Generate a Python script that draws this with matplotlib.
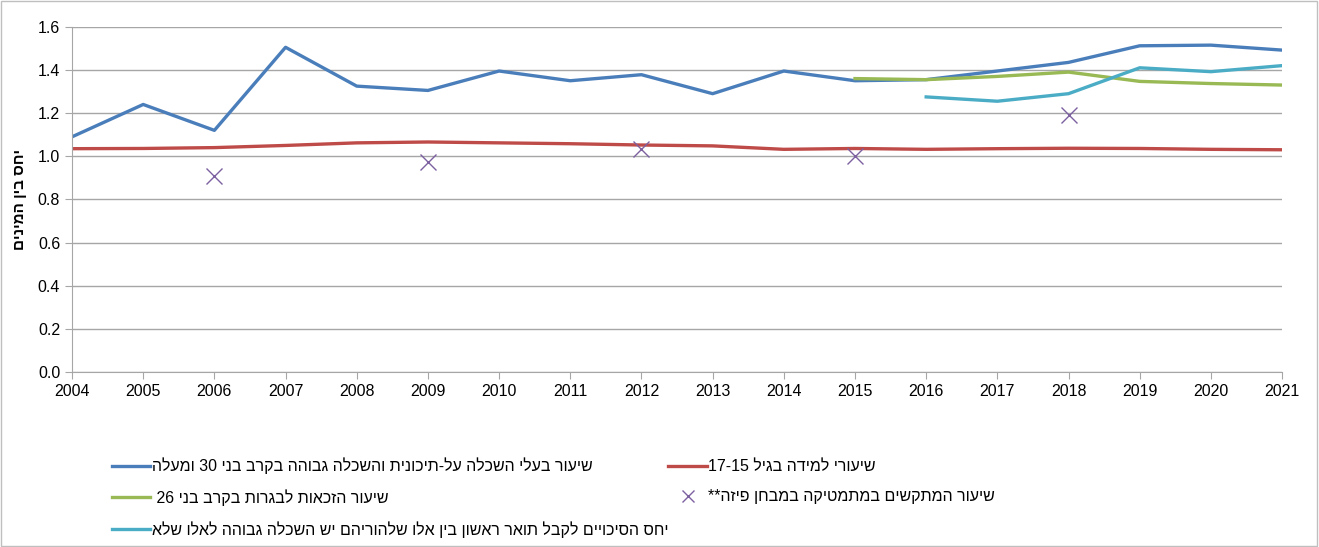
import re
import matplotlib
matplotlib.use('Agg')
import matplotlib.pyplot as plt
from matplotlib.patches import Rectangle
from matplotlib.ticker import FormatStrFormatter

plt.rcParams['font.family'] = ['Liberation Sans', 'DejaVu Sans']


def heb(s):
    # matplotlib has no bidi: flip to visual order, keep number runs LTR
    r = s[::-1]
    return re.sub(r'[0-9][0-9\-\.]*[0-9]|[0-9]', lambda m: m.group(0)[::-1], r)


years = list(range(2004, 2022))

# שיעור בעלי השכלה על-תיכונית והשכלה גבוהה בקרב בני 30 ומעלה
higher_edu = [1.09, 1.24, 1.12, 1.505, 1.325, 1.305, 1.395, 1.35, 1.378, 1.29,
              1.395, 1.35, 1.355, 1.395, 1.435, 1.512, 1.515, 1.492]
# שיעורי למידה בגיל 17-15
study_rate = [1.035, 1.036, 1.040, 1.050, 1.062, 1.066, 1.062, 1.058, 1.052, 1.048,
              1.032, 1.036, 1.032, 1.035, 1.037, 1.036, 1.032, 1.030]
# שיעור הזכאות לבגרות בקרב בני 26
bagrut_years = [2015, 2016, 2017, 2018, 2019, 2020, 2021]
bagrut = [1.36, 1.355, 1.37, 1.39, 1.347, 1.337, 1.33]
# יחס הסיכויים לקבל תואר ראשון
odds_years = [2016, 2017, 2018, 2019, 2020, 2021]
odds = [1.275, 1.255, 1.29, 1.41, 1.392, 1.42]
# פיזה
pisa_years = [2006, 2009, 2012, 2015, 2018]
pisa = [0.91, 0.975, 1.035, 1.0, 1.19]

labels = {
    'blue': heb('שיעור בעלי השכלה על-תיכונית והשכלה גבוהה בקרב בני 30 ומעלה'),
    'red': heb('שיעורי למידה בגיל 17-15'),
    'green': heb('שיעור הזכאות לבגרות בקרב בני 26 '),
    'pisa': heb('שיעור המתקשים במתמטיקה במבחן פיזה**'),
    'cyan': heb('יחס הסיכויים לקבל תואר ראשון בין אלו שלהוריהם יש השכלה גבוהה לאלו שלא'),
}

fig = plt.figure(figsize=(13.19, 5.47), dpi=100)
ax = fig.add_axes([0.0546, 0.320, 0.9174, 0.631])

lw = 2.4
l_blue, = ax.plot(years, higher_edu, color='#4a7ebb', lw=lw)
l_red, = ax.plot(years, study_rate, color='#be4b48', lw=lw)
l_green, = ax.plot(bagrut_years, bagrut, color='#98b954', lw=lw)
l_cyan, = ax.plot(odds_years, odds, color='#4bacc6', lw=lw)
l_pisa, = ax.plot(pisa_years, pisa, ls='none', marker='x', ms=12, mew=1.0, color='#7d60a0')

ax.set_xlim(2004, 2021)
ax.set_ylim(0, 1.6)
ax.set_xticks(years)
ax.set_yticks([0, 0.2, 0.4, 0.6, 0.8, 1.0, 1.2, 1.4, 1.6])
ax.yaxis.set_major_formatter(FormatStrFormatter('%.1f'))
ax.grid(axis='y', color='#a6a6a6', lw=1)
ax.set_axisbelow(True)
for s in ['top', 'right']:
    ax.spines[s].set_visible(False)
for s in ['left', 'bottom']:
    ax.spines[s].set_color('#a6a6a6')
ax.tick_params(axis='both', colors='#a6a6a6', labelcolor='black', labelsize=11.5, length=5)
ax.set_ylabel(heb('יחס בין המינים'), fontsize=11, fontweight='bold', labelpad=8)

handles = [l_blue, l_green, l_cyan, l_red, l_pisa]
names = [labels['blue'], labels['green'], labels['cyan'], labels['red'], labels['pisa']]
fig.legend(handles, names, ncol=2, loc='upper left', bbox_to_anchor=(0.074, 0.19),
           frameon=False, fontsize=11.5, handlelength=2.4, handletextpad=0.1,
           columnspacing=0.0, labelspacing=0.95, markerscale=0.75)

fig.patches.append(Rectangle((0.0005, 0.001), 0.998, 0.997, transform=fig.transFigure,
                             fill=False, edgecolor='#bfbfbf', lw=1))

fig.savefig('out.png', dpi=100)
